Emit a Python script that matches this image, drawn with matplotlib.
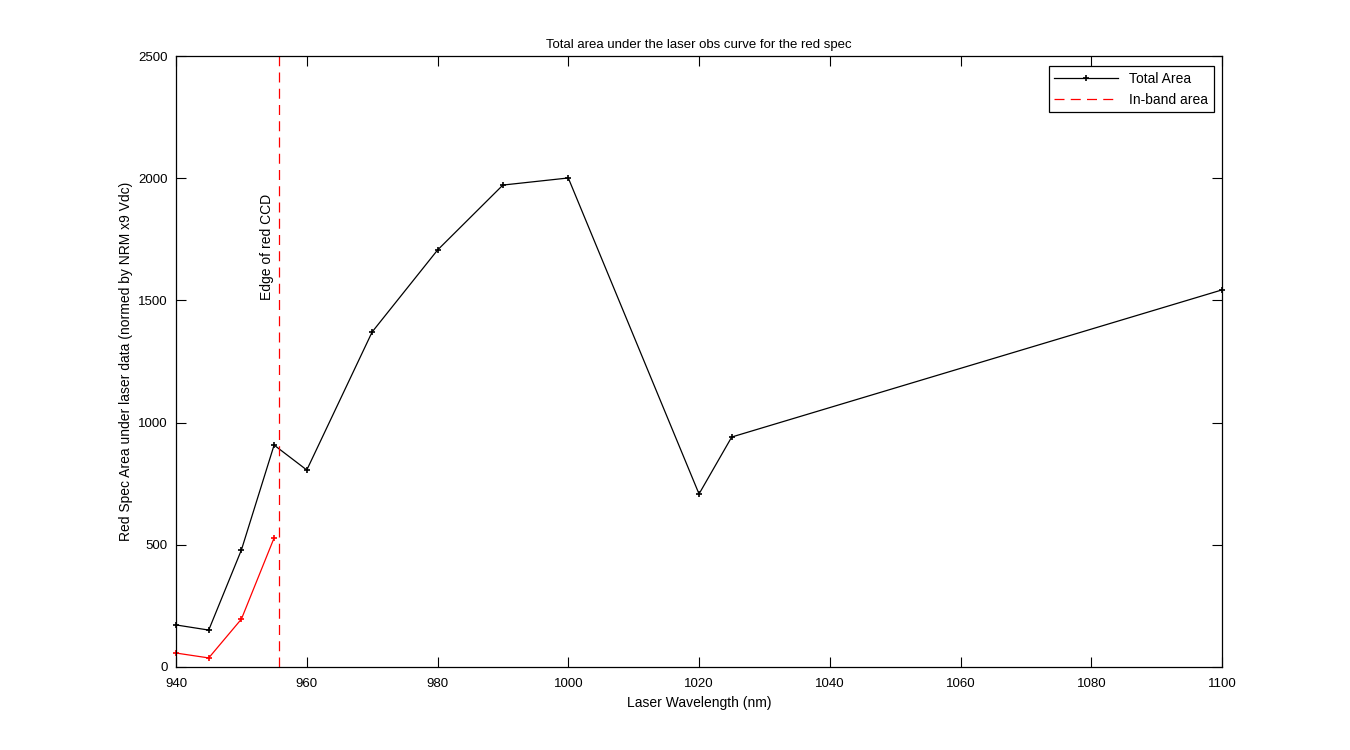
import matplotlib
matplotlib.use("Agg")
import matplotlib.pyplot as plt

plt.rcParams['font.family'] = ['Liberation Sans', 'DejaVu Sans']
plt.rcParams['font.size'] = 9

# wavelengths (nm) and total area
wl = [940, 945, 950, 955, 960, 970, 980, 990, 1000, 1020, 1025, 1100]
total = [172, 151, 479, 908, 806, 1371, 1706, 1972, 2001, 708, 941, 1543]

# in-band area
wl_in = [940, 945, 950, 955]
inband = [57, 37, 196, 528]

edge = 955.8

fig = plt.figure(figsize=(13.5, 7.5), dpi=100)
ax = fig.add_axes([0.1304, 0.1107, 0.7748, 0.8146])

ax.plot(wl, total, color='k', marker='+', markersize=4, markeredgewidth=1.2,
        linewidth=0.9, label='Total Area', clip_on=False)
ax.plot(wl_in, inband, color='r', marker='+', markersize=4, markeredgewidth=1.2,
        linewidth=0.9, clip_on=False)
ax.axvline(edge, color='r', linestyle=(0, (8, 5)), linewidth=0.9, label='In-band area')
ax.text(edge - 1.9, 1500, 'Edge of red CCD', rotation=90, ha='center', va='bottom', fontsize=10)

ax.set_xlim(940, 1100)
ax.set_ylim(0, 2500)
ax.set_xticks(range(940, 1101, 20))
ax.set_yticks(range(0, 2501, 500))
ax.tick_params(direction='in', top=True, right=True, length=7, labelsize=9.5)
ax.tick_params(axis='x', pad=8)
ax.tick_params(axis='y', pad=6)
for s in ax.spines.values():
    s.set_linewidth(0.9)

ax.set_xlabel('Laser Wavelength (nm)', fontsize=10)
ax.set_ylabel('Red Spec Area under laser data (normed by NRM x9 Vdc)', fontsize=10)
ax.set_title('Total area under the laser obs curve for the red spec', fontsize=9.5)

leg = ax.legend(loc='upper right', bbox_to_anchor=(0.992, 0.983), fancybox=False,
                edgecolor='k', framealpha=1, fontsize=10, handlelength=4.6,
                borderaxespad=0)
leg.get_frame().set_linewidth(0.9)

fig.savefig('out.png', dpi=100)
